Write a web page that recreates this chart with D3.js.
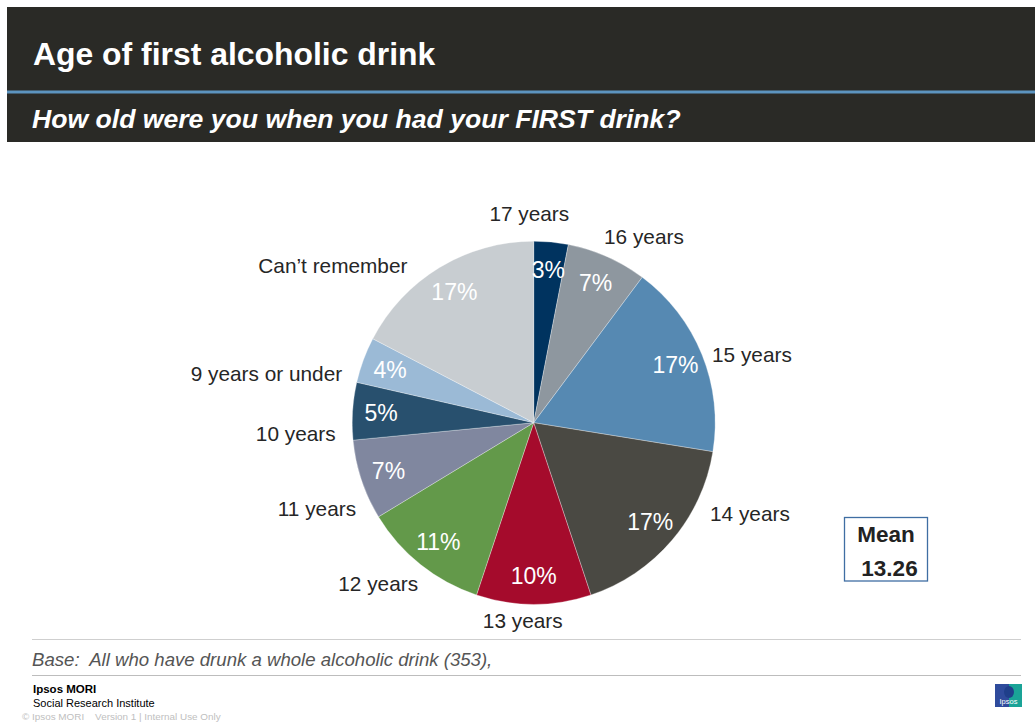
<!DOCTYPE html>
<html>
<head>
<meta charset="utf-8">
<script src="https://cdn.jsdelivr.net/npm/d3@7"></script>
<style>
  html, body { margin: 0; padding: 0; background: #fff; }
  svg { display: block; font-family: "Liberation Sans", Arial, Helvetica, sans-serif; }
</style>
</head>
<body>
<svg id="chart" width="1035" height="722"></svg>
<script>
// Age of first alcoholic drink (share of respondents, %)
const categories = ["17 years", "16 years", "15 years", "14 years", "13 years",
                    "12 years", "11 years", "10 years", "9 years or under", "Can\u2019t remember"];
const shares = [3, 7, 17, 17, 10, 11, 7, 5, 4, 17];
const sliceColors = ["#00335f", "#8e979f", "#5689b2", "#4a4943", "#a50b2c",
                     "#63994a", "#80879f", "#28506e", "#9bbad6", "#c8cdd1"];
const meanAge = 13.26;

// Layout: small hand tuning of the outside labels around their anchor points
const labelNudge = [[-23, -6], [-8, 0], [-1, 8], [29, -41], [-11, -5],
                    [5, 2], [6, 22], [-5, 24], [-10, 21], [-26, 17]];

const svg = d3.select("#chart");
const W = 1035;

// Header band
svg.append("rect").attr("x", 7).attr("y", 7).attr("width", W - 7).attr("height", 135)
  .attr("fill", "#2a2a26");
svg.append("rect").attr("x", 7).attr("y", 90.5).attr("width", W - 7).attr("height", 3)
  .attr("fill", "#5c94bf");
svg.append("text").attr("x", 33).attr("y", 65)
  .attr("fill", "#fff").attr("font-size", 31.9).attr("font-weight", "bold")
  .text("Age of first alcoholic drink");
svg.append("text").attr("x", 32).attr("y", 127.5)
  .attr("fill", "#fff").attr("font-size", 26.6).attr("font-weight", "bold").attr("font-style", "italic")
  .text("How old were you when you had your FIRST drink?");

// Pie
const cx = 533.7, cy = 422.7, radius = 181.5;
const g = svg.append("g").attr("transform", `translate(${cx},${cy})`);

const pie = d3.pie().sort(null).value(d => d.value);
const data = categories.map((c, i) => ({ label: c, value: shares[i], color: sliceColors[i] }));
const arcs = pie(data);

const arc = d3.arc().innerRadius(0).outerRadius(radius);
g.selectAll("path.slice").data(arcs).join("path")
  .attr("class", "slice")
  .attr("d", arc)
  .attr("fill", d => d.data.color)
  .attr("stroke", "#ffffff")
  .attr("stroke-opacity", 0.6)
  .attr("stroke-width", 0.5);

// Percentage labels inside slices
const inner = d3.arc().innerRadius(153).outerRadius(153);
g.selectAll("text.pct").data(arcs).join("text")
  .attr("class", "pct")
  .attr("transform", d => `translate(${inner.centroid(d)})`)
  .attr("dy", "0.35em")
  .attr("text-anchor", "middle")
  .attr("fill", "#fff")
  .attr("font-size", 23)
  .text(d => d3.format("d")(d.data.value) + "%");

// Category labels outside the pie
const labelR = radius + 12;
g.selectAll("text.cat").data(arcs).join("text")
  .attr("class", "cat")
  .each(function (d, i) {
    const a = (d.startAngle + d.endAngle) / 2;
    const s = Math.sin(a), c = Math.cos(a);
    const px = labelR * s, py = -labelR * c;
    const anchor = s > 0.25 ? "start" : (s < -0.25 ? "end" : "middle");
    const yc = py - c * 10;
    d3.select(this)
      .attr("x", px + labelNudge[i][0])
      .attr("y", yc + labelNudge[i][1])
      .attr("dy", "0.35em")
      .attr("text-anchor", anchor);
  })
  .attr("fill", "#262626")
  .attr("font-size", 20.8)
  .text(d => d.data.label);

// Mean box
const mean = svg.append("g");
mean.append("rect").attr("x", 844.5).attr("y", 517.5).attr("width", 83).attr("height", 63.5)
  .attr("fill", "#fff").attr("stroke", "#3f6ea3").attr("stroke-width", 1.3);
mean.append("text").attr("x", 886).attr("y", 542).attr("text-anchor", "middle")
  .attr("font-size", 22.5).attr("font-weight", "bold").attr("fill", "#222").text("Mean");
mean.append("text").attr("x", 889.5).attr("y", 575.5).attr("text-anchor", "middle")
  .attr("font-size", 22.5).attr("font-weight", "bold").attr("fill", "#222")
  .text(d3.format(".2f")(meanAge));

// Footer
svg.append("line").attr("x1", 32).attr("x2", 1021).attr("y1", 639.5).attr("y2", 639.5)
  .attr("stroke", "#cfcfcf").attr("stroke-width", 1);
svg.append("text").attr("x", 32).attr("y", 666)
  .attr("font-size", 18.6).attr("font-style", "italic").attr("fill", "#555")
  .style("white-space", "pre")
  .text("Base:  All who have drunk a whole alcoholic drink (353),");
svg.append("line").attr("x1", 32).attr("x2", 1021).attr("y1", 675.5).attr("y2", 675.5)
  .attr("stroke", "#bdbdbd").attr("stroke-width", 1);
svg.append("text").attr("x", 33).attr("y", 693)
  .attr("font-size", 11.5).attr("font-weight", "bold").attr("fill", "#000").text("Ipsos MORI");
svg.append("text").attr("x", 33).attr("y", 707)
  .attr("font-size", 11).attr("fill", "#000").text("Social Research Institute");
svg.append("text").attr("x", 22).attr("y", 719.5)
  .attr("font-size", 9.9).attr("fill", "#c0c0c0").style("white-space", "pre")
  .text("\u00a9 Ipsos MORI    Version 1 | Internal Use Only");

// Ipsos logo
const logo = svg.append("g").attr("transform", "translate(995,684)");
logo.append("rect").attr("width", 27).attr("height", 23).attr("fill", "#2f4b9c");
logo.append("path").attr("d", "M14,0 L27,0 L27,23 L14,23 Z").attr("fill", "#1aa397");
logo.append("ellipse").attr("cx", 14).attr("cy", 8).attr("rx", 5).attr("ry", 6).attr("fill", "#1f3f8a");
logo.append("text").attr("x", 13.5).attr("y", 20).attr("text-anchor", "middle")
  .attr("font-size", 7.5).attr("fill", "#fff").text("Ipsos");
</script>
</body>
</html>
